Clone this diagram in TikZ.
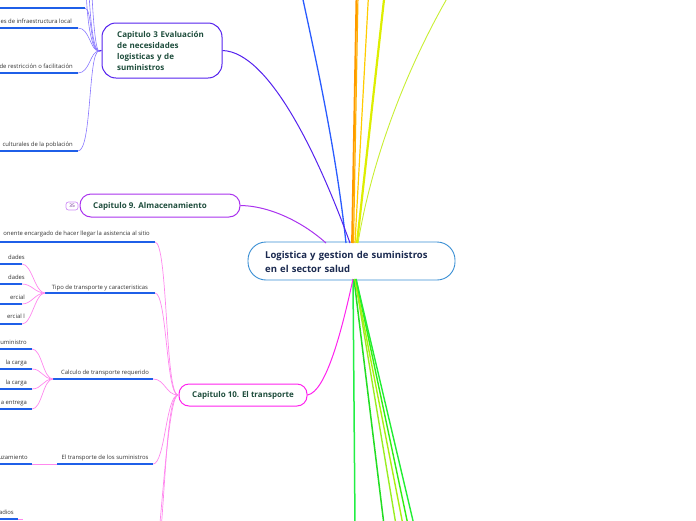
\documentclass[tikz,border=0pt]{standalone}
\usepackage{fontspec}
\setmainfont{Open Sans}
\definecolor{capgreen}{HTML}{1E4D3C}
\definecolor{navy}{HTML}{1B2A50}
\definecolor{cblue}{HTML}{3A8FD4}
\definecolor{ublue}{HTML}{1F5FE8}
\definecolor{leafgray}{HTML}{333333}
\definecolor{indigo}{HTML}{5522EE}
\definecolor{lindigo}{HTML}{8877FF}
\definecolor{violet}{HTML}{AA33EE}
\definecolor{magenta}{HTML}{FF22EE}
\definecolor{lpink}{HTML}{FF88EE}
\definecolor{lblue}{HTML}{2A5CFF}
\definecolor{orangeA}{HTML}{FF9900}
\definecolor{orangeB}{HTML}{FFB000}
\definecolor{yellowA}{HTML}{FFCC00}
\definecolor{ygreenA}{HTML}{DDEE00}
\definecolor{ygreenB}{HTML}{C8EE33}
\definecolor{greenA}{HTML}{22EE44}
\definecolor{greenB}{HTML}{22DD22}
\definecolor{greenC}{HTML}{99EE22}
\definecolor{greenD}{HTML}{AAEE11}
\definecolor{greenE}{HTML}{33EE11}
\definecolor{greenF}{HTML}{22EE33}
\begin{document}
\begin{tikzpicture}[x=1pt,y=-1pt,
  capbox/.style={draw, line width=1pt, fill=white, inner sep=0pt},
  captext/.style={text=capgreen, inner sep=0pt, anchor=west, align=left,
    font=\fontsize{8}{11}\selectfont\bfseries},
  leaf/.style={font=\fontsize{5.9}{7}\selectfont, text=leafgray, inner sep=0pt, anchor=base},
  leafe/.style={leaf, anchor=base east},
  uline/.style={draw=ublue, line width=1.3pt},
  pconn/.style={draw=lpink, line width=0.7pt},
  iconn/.style={draw=lindigo, line width=0.6pt}]
\useasboundingbox (0,0) rectangle (696,520);
\clip (0,0) rectangle (696,520);

% ---------- central node ----------
\node[draw=cblue, line width=0.9pt, rounded corners=18pt, fill=white,
  minimum width=207pt, minimum height=38pt, inner sep=0pt] (central) at (351.5,261) {};
\node[text=navy, inner sep=0pt, anchor=west, align=left, text width=185pt,
  font=\fontsize{9.5}{14}\selectfont\bfseries] (centralt) at (265,261.5)
  {Logistica y gestion de suministros\\en el sector salud};

\coordinate (ctop) at (350,243);
\coordinate (cbot) at (354,279);

% ---------- top lines ----------
\coordinate (t1) at (302,-5);
\coordinate (t2) at (356.5,-5);
\coordinate (t3) at (358,-5);
\coordinate (t4) at (368.5,-5);
\coordinate (t5) at (384.5,-5);
\coordinate (t6) at (449,-5);
\draw[lblue, line width=1.3pt] ([xshift=-4pt]ctop) .. controls (336,150) and (316,60) .. (t1);
\draw[orangeA, line width=1.8pt] ([xshift=2pt]ctop) -- (t2);
\draw[orangeB, line width=1.2pt] ([xshift=3.5pt]ctop) -- (t3);
\draw[yellowA, line width=1.2pt] ([xshift=5pt]ctop) -- (t4);
\draw[ygreenA, line width=2.2pt] ([xshift=7pt]ctop) -- (t5);
\draw[ygreenB, line width=0.9pt] ([xshift=8pt]ctop) .. controls (370,170) and (400,80) .. (t6);

% ---------- bottom lines ----------
\coordinate (b1) at (355,525);
\coordinate (b2) at (384,525);
\coordinate (b3) at (396,525);
\coordinate (b4) at (403,525);
\coordinate (b5) at (408,525);
\coordinate (b6) at (414,525);
\draw[greenA, line width=1.5pt] ([xshift=-1pt]cbot) -- (b1);
\draw[greenB, line width=1.5pt] (cbot) -- (b2);
\draw[greenC, line width=1.4pt] ([xshift=1pt]cbot) -- (b3);
\draw[greenD, line width=1.4pt] ([xshift=1pt]cbot) -- (b4);
\draw[greenE, line width=1.4pt] ([xshift=2pt]cbot) -- (b5);
\draw[greenF, line width=1.4pt] ([xshift=2pt]cbot) -- (b6);

% ---------- Capitulo 3 ----------
\node[capbox, draw=indigo, rounded corners=14pt, minimum width=120pt, minimum height=55pt] (c3) at (162,50.5) {};
\node[captext, text width=100pt] (c3t) at (117,51)
  {Capitulo 3 Evaluación\\de necesidades\\logisticas y de\\suministros};
\draw[indigo, line width=1pt] (ctop) .. controls (320,160) and (270,52) .. (c3.east);

\coordinate (j3) at (99,51);
\draw[indigo, line width=1.2pt] (c3.west) -- (j3);
\coordinate (a0) at (85,8);
\coordinate (a1) at (78,28);
\coordinate (a2) at (78,73);
\coordinate (a3) at (78,151);
\coordinate (a4) at (86,-20);
\coordinate (a5) at (88,-50);
\coordinate (a6) at (90,-90);
\draw[iconn] (j3) .. controls (90,51) and (92,8) .. (a0);
\draw[iconn] (j3) .. controls (90,51) and (90,28) .. (a1);
\draw[iconn] (j3) .. controls (90,51) and (90,73) .. (a2);
\draw[iconn] (j3) .. controls (88,51) and (92,151) .. (a3);
\draw[iconn] (j3) .. controls (90,51) and (86,10) .. (a4);
\draw[iconn] (j3) .. controls (92,51) and (88,0) .. (a5);
\draw[iconn] (j3) .. controls (94,51) and (90,-20) .. (a6);
\draw[uline] (0,8) -- (a0);
\draw[uline] (0,28) -- (a1);
\draw[uline] (0,73) -- (a2);
\draw[uline] (0,151) -- (a3);
\node[leafe] (l31) at (72,23) {es de infraestructura local};
\node[leafe] (l32) at (73,68) {de restricción o facilitación};
\node[leafe] (l33) at (73,146) {culturales de la población};

% ---------- Capitulo 9 ----------
\node[capbox, draw=violet, rounded corners=11pt, minimum width=160pt, minimum height=23pt] (c9) at (160,205.5) {};
\node[captext] (c9t) at (93,206) {Capitulo 9. Almacenamiento};
\node[draw=violet!55, line width=0.7pt, rounded corners=2.5pt, minimum width=12pt, minimum height=8pt,
  inner sep=0pt, text=violet!60!black, font=\fontsize{4.8}{5}\selectfont] (badge) at (72,206) {35};
\draw[violet, line width=1pt] (c9.east) .. controls (272,206) and (305,224) .. ([xshift=-24pt]ctop);

% ---------- Capitulo 10 ----------
\node[capbox, draw=magenta, rounded corners=10pt, minimum width=128pt, minimum height=22pt] (c10) at (243,395) {};
\node[captext] (c10t) at (192,395.5) {Capitulo 10. El transporte};
\draw[magenta, line width=1pt] (c10.east) .. controls (326,392) and (342,330) .. ([xshift=-1pt]cbot);

\coordinate (j10) at (178,395);
\coordinate (p1) at (155,242);
\coordinate (p2) at (155,293);
\coordinate (p3) at (153,379);
\coordinate (p4) at (153,464);
\coordinate (p5) at (161,530);
\coordinate (p6) at (158,545);
\draw[pconn] (j10) .. controls (165,395) and (168,242) .. (p1);
\draw[pconn] (j10) .. controls (166,395) and (167,293) .. (p2);
\draw[pconn] (j10) .. controls (166,395) and (165,379) .. (p3);
\draw[pconn] (j10) .. controls (166,395) and (165,464) .. (p4);
\draw[pconn] (j10) .. controls (168,395) and (166,470) .. (p5);
\draw[pconn] (j10) .. controls (170,395) and (164,480) .. (p6);

\draw[uline] (0,242) -- (p1);
\node[leafe] (l101) at (150,235) {onente encargado de hacer llegar la asistencia al sitio};

\coordinate (q2) at (45,293);
\draw[uline] (q2) -- (p2);
\node[leaf] (l102) at (100,289) {Tipo de transporte y caracteristicas};
\coordinate (r1) at (22,264);
\coordinate (r2) at (22,284);
\coordinate (r3) at (22,304);
\coordinate (r4) at (22,324);
\draw[pconn] (q2) .. controls (35,293) and (32,264) .. (r1);
\draw[pconn] (q2) .. controls (35,293) and (32,284) .. (r2);
\draw[pconn] (q2) .. controls (35,293) and (32,304) .. (r3);
\draw[pconn] (q2) .. controls (35,293) and (32,324) .. (r4);
\draw[uline] (0,264) -- (r1);
\draw[uline] (0,284) -- (r2);
\draw[uline] (0,304) -- (r3);
\draw[uline] (0,324) -- (r4);
\node[leafe] (l1021) at (25,259) {dades};
\node[leafe] (l1022) at (25,279) {dades};
\node[leafe] (l1023) at (25,299) {ercial};
\node[leafe] (l1024) at (25,318) {ercial l};

\coordinate (q3) at (53,379);
\draw[uline] (q3) -- (p3);
\node[leaf] (l103) at (105,374) {Calculo de transporte requerido};
\coordinate (s1) at (32,349);
\coordinate (s2) at (32,369);
\coordinate (s3) at (32,389);
\coordinate (s4) at (32,409);
\draw[pconn] (q3) .. controls (43,379) and (42,349) .. (s1);
\draw[pconn] (q3) .. controls (43,379) and (42,369) .. (s2);
\draw[pconn] (q3) .. controls (43,379) and (42,389) .. (s3);
\draw[pconn] (q3) .. controls (43,379) and (42,409) .. (s4);
\draw[uline] (0,349) -- (s1);
\draw[uline] (0,369) -- (s2);
\draw[uline] (0,389) -- (s3);
\draw[uline] (0,409) -- (s4);
\node[leafe] (l1031) at (27,344) {uministro};
\node[leafe] (l1032) at (27,364) {la carga};
\node[leafe] (l1033) at (27,384) {la carga};
\node[leafe] (l1034) at (27,404) {a entrega};

\coordinate (q4) at (57,464);
\draw[uline] (q4) -- (p4);
\node[leaf] (l104) at (105,459) {El transporte de los suministros};
\coordinate (s5) at (32,464);
\draw[pconn] (q4) -- (s5);
\draw[uline] (0,464) -- (s5);
\node[leafe] (l1041) at (28,459) {uzamiento};

\coordinate (s6) at (18,519);
\coordinate (s7) at (23,519);
\draw[uline] (0,519) -- (s6);
\draw[pconn] (s6) -- (s7);
\node[leafe] (l105) at (14,514) {adios};
\end{tikzpicture}
\end{document}
